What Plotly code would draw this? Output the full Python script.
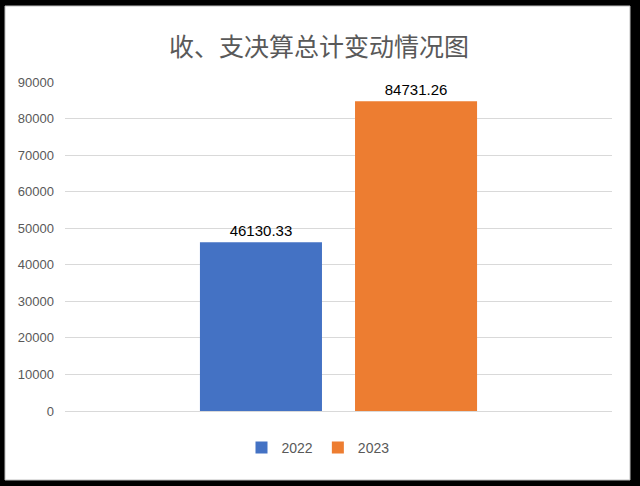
import plotly.graph_objects as go

categories = ["收、支决算总计"]
series_names = ["2022", "2023"]
values_2022 = [46130.33]
values_2023 = [84731.26]
colors = ["#4472C4", "#ED7D31"]
tick_vals = [0, 10000, 20000, 30000, 40000, 50000, 60000, 70000, 80000, 90000]

W, H = 640, 486
ml, mr, mt, mb = 65, 28, 82, 75
pw, ph = W - ml - mr, H - mt - mb

def px_x(p):
    return (p - ml) / pw

def px_y(p):
    return (H - mb - p) / ph

fig = go.Figure()
for name, vals, col in zip(series_names, [values_2022, values_2023], colors):
    fig.add_trace(go.Bar(
        x=categories, y=vals, name=name,
        marker=dict(color=col, line=dict(width=0)),
        text=[f"{v:.2f}" for v in vals],
        textposition="outside",
        textfont=dict(family="Liberation Sans, Arial", size=15, color="#000000"),
        cliponaxis=False,
    ))

fig.update_layout(
    width=W, height=H,
    margin=dict(l=ml, r=mr, t=mt, b=mb, autoexpand=False),
    paper_bgcolor="black",
    plot_bgcolor="rgba(0,0,0,0)",
    barmode="group",
    bargap=0.433,
    bargroupgap=0.213,
    title=dict(
        text="收、支决算总计变动情况图",
        x=px_x(319), xanchor="center", xref="paper",
        y=1 - 47 / H, yanchor="middle",
        font=dict(family="Noto Sans CJK SC", size=25, color="#595959"),
    ),
    font=dict(family="Liberation Sans, Arial", color="#595959"),
    showlegend=True,
    legend=dict(
        orientation="h", x=px_x(318), xanchor="center", xref="paper",
        y=px_y(448), yanchor="middle",
        font=dict(size=14, color="#595959"),
        bgcolor="rgba(0,0,0,0)",
        itemwidth=30,
    ),
    xaxis=dict(showticklabels=False, showgrid=False, zeroline=False, showline=False, ticks=""),
    yaxis=dict(
        range=[0, 90000], tickvals=tick_vals, ticktext=[str(v) for v in tick_vals],
        showgrid=True, gridcolor="#D9D9D9", gridwidth=1,
        zeroline=True, zerolinecolor="#D9D9D9", zerolinewidth=1,
        showline=False, ticks="", ticklabelstandoff=10, automargin=False,
        tickfont=dict(family="Liberation Sans, Arial", size=13, color="#595959"),
    ),
    shapes=[dict(
        type="rect", xref="paper", yref="paper",
        x0=px_x(5), x1=px_x(630), y0=px_y(480), y1=px_y(6),
        fillcolor="white", line=dict(width=1, color="#BFBFBF"), layer="below",
    )],
)

fig.write_html(
    "out.html",
    config={"displayModeBar": False},
    post_script="document.body.style.margin='0';document.body.style.padding='0';document.body.style.overflow='hidden';",
)
